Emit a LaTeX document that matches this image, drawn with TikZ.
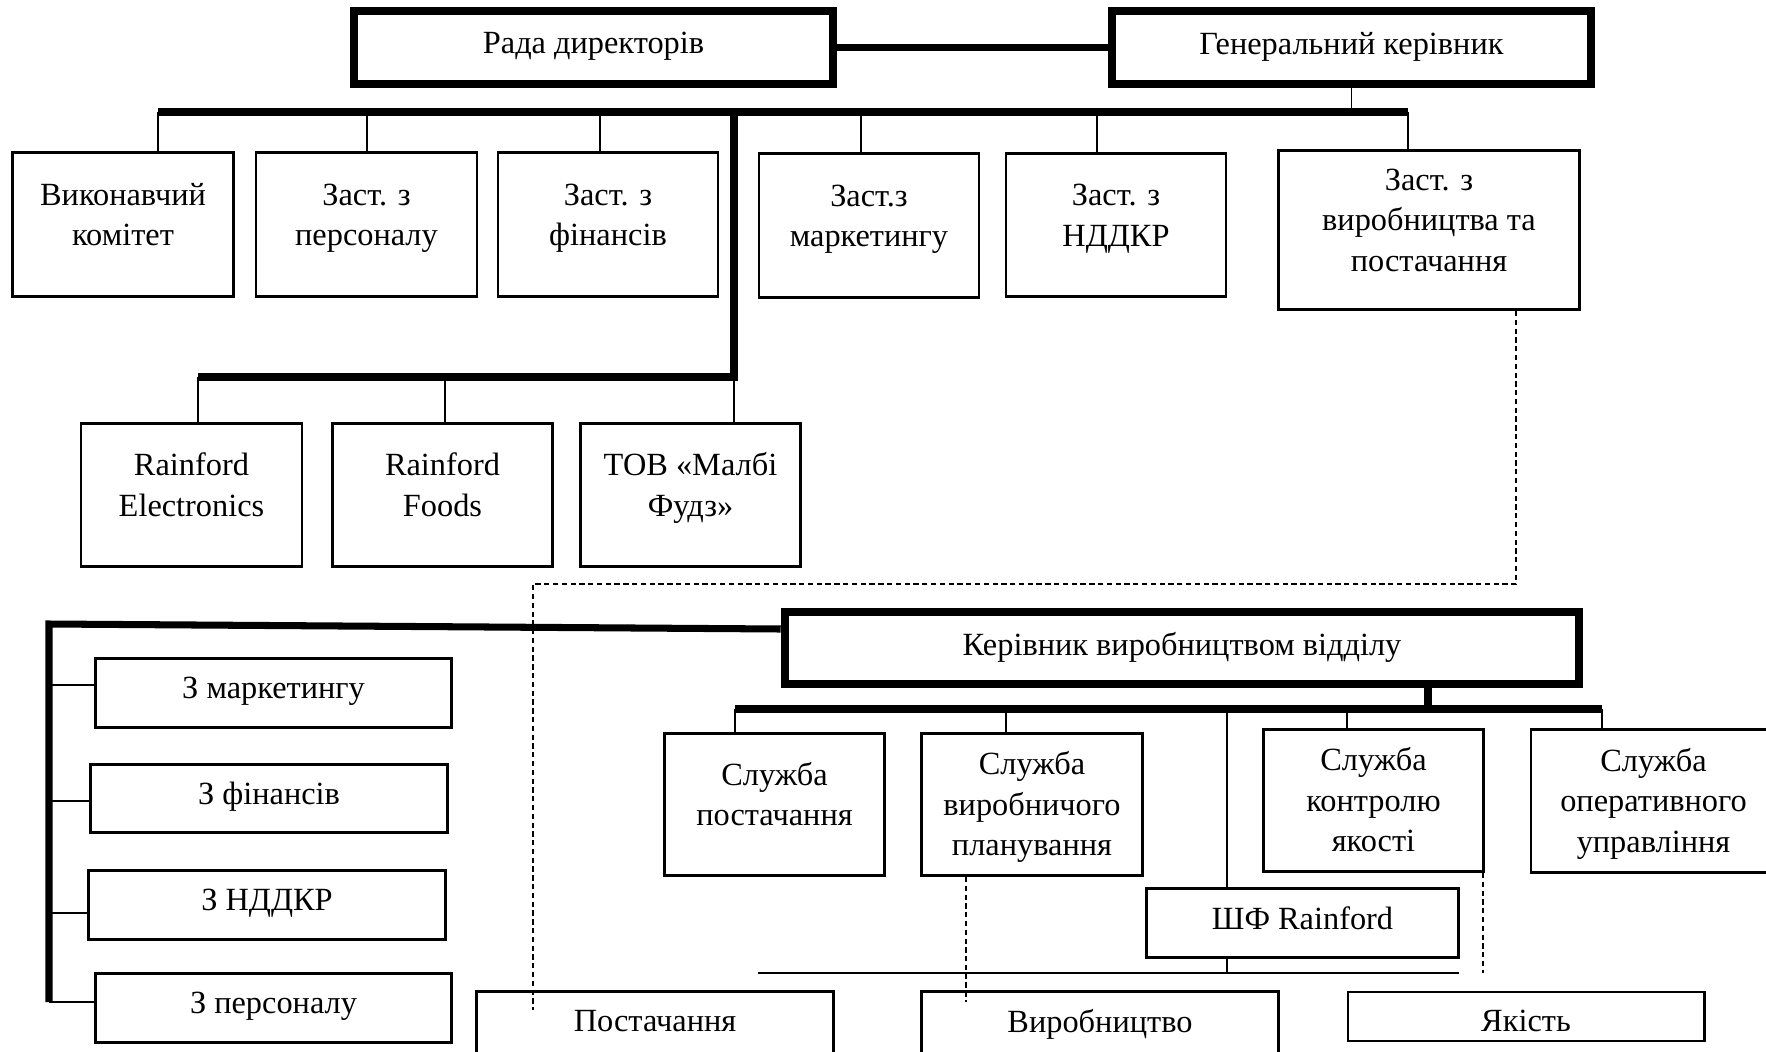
\documentclass[tikz,border=0pt]{standalone}
\usepackage{fontspec}
\setmainfont{Liberation Serif}
\usepackage{tikz}
\usetikzlibrary{positioning}

\begin{document}
\begin{tikzpicture}[x=0.01cm, y=-0.01cm,
  box/.style={draw, line width=0.8pt, align=center, inner sep=0pt, font=\fontsize{9.2}{11.5}\selectfont},
  heavy/.style={box, line width=2.3pt},
  lift/.style={text depth=#1},
  bus/.style={line width=2pt},
  link/.style={line width=0.4pt},
  dashlink/.style={line width=0.4pt, dash pattern=on 1.5pt off 1pt}]
\useasboundingbox (0,0) rectangle (1766,1051);
\clip (0,0) rectangle (1766,1051);

\node[heavy, minimum width=4.79cm, minimum height=0.73cm, lift=2.5pt] (rada) at (593.5,47.5) {Рада директорів};
\node[heavy, minimum width=4.79cm, minimum height=0.73cm, lift=2.5pt] (gen) at (1351.5,47.5) {Генеральний керівник};

\node[box, minimum width=2.21cm, minimum height=1.44cm, lift=5.6pt] (vykon) at (123,224.5) {Виконавчий\\комітет};
\node[box, minimum width=2.21cm, minimum height=1.44cm, lift=5.6pt] (pers) at (366.5,224.5) {Заст. з\\персоналу};
\node[box, minimum width=2.2cm, minimum height=1.44cm, lift=5.6pt] (fin) at (608,224.5) {Заст. з\\фінансів};
\node[box, minimum width=2.2cm, minimum height=1.44cm, lift=5.6pt] (mark) at (869,225.5) {Заст.з\\маркетингу};
\node[box, minimum width=2.2cm, minimum height=1.43cm, lift=5.6pt] (nddkr) at (1116,225) {Заст. з\\НДДКР};
\node[box, minimum width=3.01cm, minimum height=1.59cm, lift=5.6pt] (vyrob) at (1429,230) {Заст. з\\виробництва та\\постачання};

\node[box, minimum width=2.21cm, minimum height=1.43cm, lift=6pt] (relec) at (191.5,495) {Rainford\\Electronics};
\node[box, minimum width=2.2cm, minimum height=1.43cm, lift=6pt] (rfoods) at (442.5,495) {Rainford\\Foods};
\node[box, minimum width=2.2cm, minimum height=1.43cm, lift=6pt] (malbi) at (690.5,495) {ТОВ «Малбі\\Фудз»};

\node[heavy, minimum width=7.94cm, minimum height=0.72cm, lift=2.5pt] (kerivnyk) at (1182,648) {Керівник виробництвом відділу};

\node[box, minimum width=3.56cm, minimum height=0.69cm, lift=3pt] (zmark) at (273.5,693) {З маркетингу};
\node[box, minimum width=3.57cm, minimum height=0.68cm, lift=3pt] (zfin) at (269,798.5) {З фінансів};
\node[box, minimum width=3.57cm, minimum height=0.69cm, lift=3pt] (znddkr) at (267,905) {З НДДКР};
\node[box, minimum width=3.56cm, minimum height=0.69cm, lift=3pt] (zpers) at (273.5,1008) {З персоналу};

\node[box, minimum width=2.2cm, minimum height=1.42cm, lift=6pt] (spost) at (774.5,804.5) {Служба\\постачання};
\node[box, minimum width=2.21cm, minimum height=1.42cm, lift=0.5pt] (splan) at (1032,804.5) {Служба\\виробничого\\планування};
\node[box, minimum width=2.2cm, minimum height=1.42cm, lift=0.5pt] (skontr) at (1373.5,800.5) {Служба\\контролю\\якості};
\node[box, minimum width=2.45cm, minimum height=1.43cm, lift=0.5pt] (soper) at (1653.5,801) {Служба\\оперативного\\управління};
\node[box, minimum width=3.12cm, minimum height=0.69cm, lift=3pt] (shf) at (1302.5,923) {ШФ Rainford};

\node[box, minimum width=3.57cm, minimum height=0.78cm, lift=5.6pt] (post) at (655,1030.5) {Постачання};
\node[box, minimum width=3.57cm, minimum height=0.78cm, lift=5.6pt] (vyrobn) at (1100,1030.5) {Виробництво};
\node[box, minimum width=3.56cm, minimum height=0.49cm, text height=8.5pt] (yakist) at (1526,1016.5) {Якість};

\draw[bus] (rada) -- (gen);
\coordinate (tl) at (158,112);
\coordinate (tm) at (734,112);
\coordinate (tr) at (1408,112);
\draw[bus] (tl) -- (tr);
\draw[link] (gen.south) -- (gen.south |- tr);
\draw[link] (tl) -- (tl |- vykon.north);
\draw[link] (367,112) -- (367,112 |- pers.north);
\draw[link] (600,112) -- (600,112 |- fin.north);
\draw[link] (861,112) -- (861,112 |- mark.north);
\draw[link] (1097,112) -- (1097,112 |- nddkr.north);
\draw[link] (tr) -- (tr |- vyrob.north);

\coordinate (ml) at (198,377);
\coordinate (mr) at (734,377);
\draw[bus] (tm) -- (mr) -- (ml);
\draw[link] (ml) -- (ml |- relec.north);
\draw[link] (445,377) -- (445,377 |- rfoods.north);
\draw[link] (mr) -- (mr |- malbi.north);

\draw[dashlink] (vyrob.south -| 1516,0) -- (1516,584) -- (533,584) -- (533,1010);

\coordinate (lt) at (49,624);
\coordinate (lb) at (49,1002);
\draw[bus] (lb) -- (lt) -- (kerivnyk.west |- 0,629);
\draw[link] (49,685) -- (49,685 -| zmark.west);
\draw[link] (49,801) -- (49,801 -| zfin.west);
\draw[link] (49,913) -- (49,913 -| znddkr.west);
\draw[link] (lb) -- (lb -| zpers.west);

\coordinate (sl) at (735,709);
\coordinate (sr) at (1602,709);
\draw[bus] (kerivnyk.south -| 1428,0) -- (1428,709);
\draw[bus] (sl) -- (sr);
\draw[link] (sl) -- (sl |- spost.north);
\draw[link] (1006,709) -- (1006,709 |- splan.north);
\draw[link] (1227,709) -- (1227,709 |- shf.north);
\draw[link] (1347,709) -- (1347,709 |- skontr.north);
\draw[link] (sr) -- (sr |- soper.north);
\draw[link] (shf.south -| 1227,0) -- (1227,973);
\draw[link] (758,973) -- (1459,973);
\draw[dashlink] (splan.south -| 966,0) -- (966,1002);
\draw[dashlink] (skontr.south -| 1483,0) -- (1483,973);
\end{tikzpicture}
\end{document}
